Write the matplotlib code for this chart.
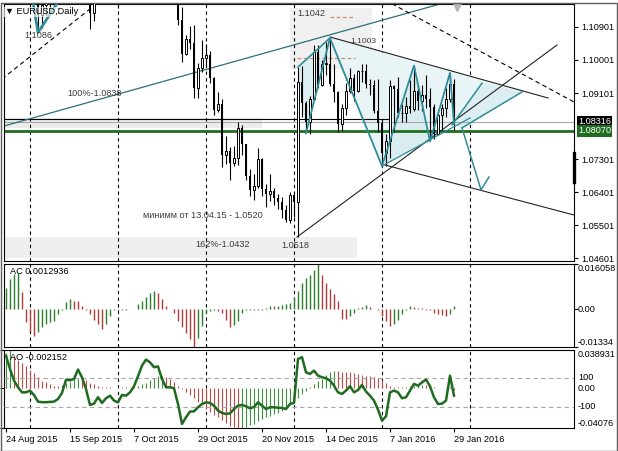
import matplotlib.pyplot as plt
from matplotlib.patches import Rectangle
from matplotlib.transforms import blended_transform_factory as blend
import numpy as np

plt.rcParams['font.family'] = ['Liberation Sans', 'DejaVu Sans']
plt.rcParams['font.size'] = 6.6

# EURUSD daily bars, 24 Aug 2015 .. 29 Jan 2016
opens = [1.1385, 1.1612, 1.1518, 1.1318, 1.1251, 1.1184, 1.1211, 1.1315, 1.1230, 1.1122,
         1.1150, 1.1168, 1.1204, 1.1208, 1.1279, 1.1338, 1.1313, 1.1268, 1.1296, 1.1433,
         1.1301, 1.1196, 1.1129, 1.1186, 1.1215, 1.1195, 1.1235, 1.1254, 1.1177, 1.1195,
         1.1215, 1.1192, 1.1260, 1.1277, 1.1278, 1.1356, 1.1365, 1.1382, 1.1470, 1.1380,
         1.1350, 1.1325, 1.1344, 1.1345, 1.1108, 1.1017, 1.1057, 1.1047, 1.0924, 1.0977,
         1.1005, 1.1015, 1.0950, 1.0865, 1.0880, 1.0740, 1.0752, 1.0720, 1.0734, 1.0815,
         1.0771, 1.0685, 1.0645, 1.0656, 1.0730, 1.0647, 1.0634, 1.0643, 1.0625, 1.0613,
         1.0592, 1.0564, 1.0631, 1.0612, 1.0940, 1.0884, 1.0832, 1.0893, 1.1023, 1.0932,
         1.0990, 1.0990, 1.0935, 1.0912, 1.0826, 1.0868, 1.0916, 1.0952, 1.0916, 1.0970,
         1.0970, 1.0935, 1.0931, 1.0860, 1.0829, 1.0747, 1.0778, 1.0929, 1.0920, 1.0855,
         1.0856, 1.0875, 1.0866, 1.0915, 1.0889, 1.0906, 1.0893, 1.0873, 1.0798, 1.0850,
         1.0868, 1.0894, 1.0934]
highs = [1.1714, 1.1620, 1.1545, 1.1375, 1.1315, 1.1235, 1.1332, 1.1328, 1.1257, 1.1175,
         1.1187, 1.1227, 1.1236, 1.1292, 1.1360, 1.1370, 1.1323, 1.1305, 1.1460, 1.1440,
         1.1332, 1.1225, 1.1220, 1.1270, 1.1230, 1.1255, 1.1279, 1.1262, 1.1225, 1.1317,
         1.1245, 1.1286, 1.1295, 1.1297, 1.1387, 1.1395, 1.1406, 1.1478, 1.1495, 1.1393,
         1.1375, 1.1385, 1.1370, 1.1361, 1.1144, 1.1067, 1.1093, 1.1095, 1.0993, 1.1055,
         1.1045, 1.1025, 1.0955, 1.0913, 1.0894, 1.0793, 1.0763, 1.0765, 1.0830, 1.0823,
         1.0771, 1.0704, 1.0690, 1.0761, 1.0734, 1.0662, 1.0690, 1.0652, 1.0635, 1.0626,
         1.0605, 1.0639, 1.0635, 1.0981, 1.0985, 1.0888, 1.0903, 1.1042, 1.1040, 1.1000,
         1.1048, 1.1060, 1.0990, 1.0915, 1.0880, 1.0937, 1.0978, 1.0963, 1.0973, 1.0990,
         1.0990, 1.0948, 1.0945, 1.0948, 1.0840, 1.0797, 1.0945, 1.0933, 1.0955, 1.0880,
         1.0900, 1.0945, 1.0985, 1.0930, 1.0933, 1.0960, 1.0925, 1.0880, 1.0855, 1.0880,
         1.0925, 1.0965, 1.0947]
lows = [1.1383, 1.1466, 1.1287, 1.1200, 1.1155, 1.1156, 1.1201, 1.1205, 1.1086, 1.1087,
        1.1124, 1.1138, 1.1150, 1.1160, 1.1261, 1.1288, 1.1234, 1.1215, 1.1262, 1.1279,
        1.1187, 1.1085, 1.1106, 1.1161, 1.1170, 1.1160, 1.1210, 1.1152, 1.1142, 1.1175,
        1.1155, 1.1176, 1.1220, 1.1210, 1.1273, 1.1340, 1.1360, 1.1370, 1.1370, 1.1338,
        1.1321, 1.1300, 1.1330, 1.1096, 1.0996, 1.1015, 1.1030, 1.0896, 1.0897, 1.0968,
        1.0982, 1.0937, 1.0851, 1.0857, 1.0707, 1.0717, 1.0674, 1.0712, 1.0715, 1.0740,
        1.0674, 1.0630, 1.0617, 1.0652, 1.0630, 1.0599, 1.0615, 1.0604, 1.0595, 1.0570,
        1.0558, 1.0555, 1.0573, 1.0518, 1.0844, 1.0800, 1.0797, 1.0888, 1.0925, 1.0930,
        1.0958, 1.0930, 1.0885, 1.0804, 1.0806, 1.0850, 1.0911, 1.0888, 1.0913, 1.0940,
        1.0925, 1.0905, 1.0855, 1.0804, 1.0711, 1.0711, 1.0733, 1.0804, 1.0845, 1.0830,
        1.0830, 1.0855, 1.0860, 1.0865, 1.0860, 1.0870, 1.0778, 1.0786, 1.0796, 1.0810,
        1.0845, 1.0885, 1.0810]
closes = [1.1612, 1.1518, 1.1318, 1.1251, 1.1184, 1.1211, 1.1315, 1.1230, 1.1122, 1.1150,
          1.1168, 1.1204, 1.1208, 1.1279, 1.1338, 1.1313, 1.1268, 1.1296, 1.1433, 1.1301,
          1.1196, 1.1129, 1.1186, 1.1215, 1.1195, 1.1235, 1.1254, 1.1177, 1.1195, 1.1215,
          1.1192, 1.1260, 1.1277, 1.1278, 1.1356, 1.1365, 1.1382, 1.1470, 1.1380, 1.1350,
          1.1325, 1.1344, 1.1345, 1.1108, 1.1017, 1.1057, 1.1047, 1.0924, 1.0977, 1.1005,
          1.1015, 1.0950, 1.0865, 1.0880, 1.0740, 1.0752, 1.0720, 1.0734, 1.0815, 1.0771,
          1.0685, 1.0645, 1.0656, 1.0730, 1.0647, 1.0634, 1.0643, 1.0625, 1.0613, 1.0592,
          1.0564, 1.0631, 1.0612, 1.0940, 1.0884, 1.0832, 1.0893, 1.1023, 1.0932, 1.0990,
          1.0990, 1.0935, 1.0912, 1.0826, 1.0868, 1.0916, 1.0952, 1.0916, 1.0970, 1.0970,
          1.0935, 1.0931, 1.0860, 1.0829, 1.0747, 1.0778, 1.0929, 1.0920, 1.0855, 1.0856,
          1.0875, 1.0866, 1.0915, 1.0889, 1.0906, 1.0893, 1.0873, 1.0798, 1.0850, 1.0868,
          1.0894, 1.0934, 1.0831]

# Accelerator oscillator, x 1e-3
ac_values = [7.6, 10.7, 12.5, 12.9, 6.2, -4.5, -7.6, -9.5, -8.0, -6.2,
             -5.3, -4.5, -4.1, -1.8, -0.4, 2.7, 3.6, 3.0, 2.8, 1.2,
             -0.3, -1.8, -3.6, -5.3, -7.1, -5.3, -2.3, -0.3, -0.2, -0.3,
             -0.1, 0.1, 0.2, 1.8, 2.9, 4.5, 5.9, 6.4, 5.9, 3.6,
             1.2, 0.2, -1.2, -4.1, -6.4, -8.4, -10.5, -13.34, -10.2, -5.9,
             -1.2, -0.5, -0.3, -0.5, -1.2, -3.6, -6.4, -5.6, -4.1, -1.2,
             -0.4, -0.3, -0.4, -0.2, -0.3, 0.3, 1.2, 1.1, 1.3, 1.6,
             1.8, 2.3, 4.5, 6.4, 9.3, 11.1, 12.3, 14.0, 16.058, 12.3,
             9.3, 7.1, 5.3, 2.9, -3.3, -3.5, -2.3, -1.2, 0.3, 0.9,
             1.4, 0.7, 0.2, -0.4, -2.3, -4.1, -5.9, -5.3, -3.6, -1.5,
             -0.3, 1.2, 0.9, 0.6, 0.4, -0.3, -0.4, -1.4, -1.8, -2.1,
             -2.2, -1.8, 1.2936]

# Awesome oscillator, x 1e-3
ao_values = [36, 38.931, 32, 29, 26, 23, 19, 15, 11, 7.5,
             5.8, 4.0, 2.5, 2.0, 3.2, 5, 6.5, 9, 10.5, 9.5,
             8, 5.6, 4, 2.4, 1.6, 1.2, 0.8, 0.6, 0.8, 1.0,
             0.8, 0.6, 1.2, 2.4, 4, 5.6, 8, 10.5, 12, 12.8,
             11, 9.5, 6.4, 2.4, -0.9, -3.5, -7, -10.5, -14, -17.5,
             -21, -24, -27, -30, -33, -36, -38.5, -40, -40.76, -40.3,
             -39.5, -38, -36.5, -34, -32, -30, -28, -26.5, -25, -23,
             -20, -17.5, -15, -10.5, -6, -2.6, 0.8, 4, 7, 9.5,
             13.5, 16.8, 17.6, 17.2, 16.8, 16.4, 16, 15.2, 14.4, 13.6,
             12.8, 12, 11.6, 10.4, 8, 4.8, 2.4, 1.2, 0.8, 1.2,
             1.6, 2.0, 2.4, 2.8, 3.0, 2.8, 2.0, 1.2, 0.4, 0.2,
             0.4, 0.8, -2.152]

# CCI line in the AO window
cci_values = [254, 162, 82, 36, 1, 1, 13, -17, -63, -67,
              -67, -65, -63, -45, -3, 88, 84, 93, 158, 105,
              24, -86, -77, -33, -72, -40, -22, -56, -68, -17,
              -22, 1, 43, 112, 185, 227, 208, 174, 180, 93,
              36, 36, 29, -79, -217, -171, -132, -130, -102, -79,
              -68, -72, -91, -125, -141, -148, -144, -114, -91, -86,
              -95, -109, -100, -68, -91, -114, -102, -102, -105, -107,
              -114, -79, -72, 231, 243, 139, 128, 151, 116, 105,
              98, 82, 47, 1, -10, 13, 43, 1, 17, 52,
              6, -22, -56, -118, -194, -164, 1, 13, 1, -40,
              -33, 13, 59, 47, 70, 89, 43, -33, -79, -77,
              -56, 116, -22]

date_ticks = [0, 16, 32, 48, 64, 80, 96, 112]
date_labels = ['24 Aug 2015', '15 Sep 2015', '7 Oct 2015', '29 Oct 2015',
               '20 Nov 2015', '14 Dec 2015', '7 Jan 2016', '29 Jan 2016']
grid_bars = [6, 28, 50, 72, 94, 116]

price_ticks = [1.10901, 1.10001, 1.09101, 1.07301, 1.06401, 1.05501, 1.04601]
bid = 1.08316
support = 1.08070
level_1838 = 1.0838

# harmonic pattern points (bar, price)
pat_x = [75, 81, 94, 102, 106, 111, 112]
pat_p = [1.0800, 1.1060, 1.0711, 1.0985, 1.0778, 1.0965, 1.0826]

W, H = 618, 451
def px_box(x0, y0, x1, y1):
    return [x0 / W, 1 - y1 / H, (x1 - x0) / W, (y1 - y0) / H]

fig = plt.figure(figsize=(6.18, 4.51), dpi=100)
ax = fig.add_axes(px_box(4, 4, 574, 261))
ac_ax = fig.add_axes(px_box(4, 264, 574, 347))
ao_ax = fig.add_axes(px_box(4, 350, 574, 428))

XMIN, XMAX = -0.5, 142
for a in (ax, ac_ax, ao_ax):
    a.set_xlim(XMIN, XMAX)
    for s in a.spines.values():
        s.set_linewidth(0.8)
    a.tick_params(axis='x', bottom=False, labelbottom=False)
    a.yaxis.tick_right()
    a.tick_params(axis='y', length=3, width=0.8, pad=2, labelsize=6.6)
    for g in grid_bars:
        a.axvline(g, color='black', lw=0.8, ls=(0, (3, 3)), zorder=0.5)

teal = '#2f8c98'
dark = '#3c3c3c'

# ---- main price window
ax.set_ylim(1.04520, 1.11528)
ax.set_yticks(price_ticks)
ax.set_yticklabels(['%.5f' % p for p in price_ticks])

ax.add_patch(Rectangle((-0.5, 1.08147), 64.5, 0.00272, color='#ececec', lw=0, zorder=0.2))
ax.add_patch(Rectangle((-0.5, 1.04602), 88.25, 0.00572, color='#efefef', lw=0, zorder=0.2))
ax.add_patch(Rectangle((71, 1.09750), 20.5, 0.01670, color='#f0f0f0', lw=0, zorder=0.2))

# filled pattern areas
ax.fill([73, 81, 75], [1.0981, 1.1060, 1.0800], color='#dceef1', lw=0, zorder=0.6)
ax.fill([81, 94, 116, 129], [1.1060, 1.0711, 1.0864, 1.0915], color='#e9f4f6', lw=0, zorder=0.6)
ax.fill([94, 102, 106], [1.0711, 1.0985, 1.0778], color='#d9edf0', lw=0, zorder=0.7)
ax.fill([111.5, 119, 129, 114], [1.0823, 1.0937, 1.0913, 1.0815], color='#dceef1', lw=0, zorder=0.7)

ax.axhline(bid, color='#a8a8a8', lw=0.8, zorder=1)
ax.plot([-0.5, 96], [level_1838, level_1838], color='black', lw=0.8, zorder=1)
ax.axhline(support, color='#1f6e1f', lw=2, zorder=1)

# trend lines
ax.plot([-0.5, 108.5], [1.08201, 1.11528], color='#2c6f7a', lw=0.9, zorder=2)
ax.plot([-1, 25], [1.09483, 1.1174], color='black', lw=0.8, ls=(0, (4, 3)), zorder=2)
ax.plot([94.75, 142], [1.11637, 1.08856], color='black', lw=0.8, ls=(0, (4, 3)), zorder=2)
ax.plot([72.75, 137.75], [1.05174, 1.10410], color='#222222', lw=0.8, zorder=2)
ax.plot([94.75, 142], [1.07138, 1.05774], color='#222222', lw=0.8, zorder=2)
ax.plot([81, 135.5], [1.10628, 1.08965], color='#222222', lw=0.8, zorder=2)
ax.plot([72.75, 87.25], [1.10056, 1.10056], color='#d0906a', lw=0.9, ls=(0, (3, 2)), zorder=2)
ax.plot([81, 87.25], [1.11174, 1.11174], color='#d0906a', lw=0.9, ls=(0, (3, 2)), zorder=2)

# teal zigzags
ax.plot([6.5, 8, 14], [1.1175, 1.1075, 1.1175], color=teal, lw=2, zorder=5)
ax.plot([73, 81], [1.0981, 1.1060], color=teal, lw=1.2, zorder=5)
ax.plot(pat_x, pat_p, color=teal, lw=1.3, zorder=5)
ax.plot([94, 116], [1.0711, 1.0842], color=teal, lw=0.9, zorder=5)
ax.plot([111.5, 119], [1.0823, 1.0937], color=teal, lw=1.1, zorder=5)
ax.plot([114, 129], [1.0815, 1.0913], color=teal, lw=1.1, zorder=5)
ax.plot([114, 118.75, 120.75], [1.0815, 1.0646, 1.0681], color=teal, lw=1.1, zorder=5)

# candles
idx = np.arange(len(closes))
o, h, l, c = (np.array(v) for v in (opens, highs, lows, closes))
up = c >= o
ax.vlines(idx, l, h, color='black', lw=0.8, zorder=3)
ax.bar(idx[up], np.maximum((c - o)[up], 0.00008), bottom=o[up], width=0.72,
       facecolor='white', edgecolor='black', lw=0.7, zorder=4)
ax.bar(idx[~up], (o - c)[~up], bottom=c[~up], width=0.72, color='black', zorder=4)

# labels on the chart
ax.text(4.5, 1.10656, '1.1086', color=dark, va='center', zorder=6)
ax.text(15.25, 1.09074, '100%-1.0838', color=dark, va='center', zorder=6)
ax.text(72.75, 1.11256, '1.1042', color=dark, va='center', zorder=6)
ax.text(86, 1.10519, '1.1003', color=dark, va='center', fontsize=6, zorder=6)
ax.text(34.25, 1.05774, 'минимм от 13.04.15 - 1.0520', color=dark, va='center', zorder=6)
ax.text(47.25, 1.04983, '162%-1.0432', color=dark, va='center', zorder=6)
ax.text(68.75, 1.04956, '1.0518', color=dark, va='center', zorder=6)
ax.text(1 / 570, 1 - 8 / 257, '\u25bc EURUSD,Daily', transform=ax.transAxes,
        va='center', color='black', zorder=6,
        bbox=dict(facecolor='white', edgecolor='none', pad=0.5, alpha=0.6))
ax.plot(112.75, 1.1145, marker='v', ms=6, color='#b4b4b4', clip_on=False, zorder=6)

rt = blend(ax.transAxes, ax.transData)
ax.text(1 + 4 / 570, bid, '1.08316', transform=rt, color='white', va='center', ha='left',
        bbox=dict(facecolor='black', edgecolor='none', pad=0.6))
ax.text(1 + 4 / 570, support, '1.08070', transform=rt, color='white', va='center', ha='left',
        bbox=dict(facecolor='#1f6e1f', edgecolor='none', pad=0.9))
ax.plot([1, 1], [1.07465, 1.06674], transform=rt, color='black', lw=2.4, clip_on=False, zorder=6)

# ---- AC window
ac = np.array(ac_values) / 1000
ac_col = ['#2d7d2d' if i == 0 or ac[i] > ac[i - 1] else '#b23a3a' for i in range(len(ac))]
ac_ax.set_ylim(-0.01334, 0.016058)
ac_ax.vlines(idx, 0, ac, colors=ac_col, lw=1.0, zorder=2)
ac_ax.set_yticks([0.016058, 0, -0.01334])
ac_ax.set_yticklabels(['', '', ''])
art = blend(ac_ax.transAxes, ac_ax.transData)
ac_ax.text(1 + 4 / 570, 0.016058, '0.016058', transform=art, va='top')
ac_ax.text(1 + 4 / 570, 0, '0.00', transform=art, va='center')
ac_ax.text(1 + 4 / 570, -0.01334, '-0.01334', transform=art, va='bottom')
ac_ax.text(6 / 570, 0.96, 'AC 0.0012936', transform=ac_ax.transAxes, va='top')

# ---- AO window with CCI
ao = np.array(ao_values) / 1000
ao_col = ['#3f8f3f' if i == 0 or ao[i] > ao[i - 1] else '#c24848' for i in range(len(ao))]
ao_ax.set_ylim(-0.04076, 0.038931)
ao_ax.vlines(idx, 0, ao, colors=ao_col, lw=0.8, zorder=2)
ao_ax.set_yticks([0.038931, 0, -0.04076])
ao_ax.set_yticklabels(['', '', ''])

cci_ax = ao_ax.twinx()
cci_ax.set_xlim(XMIN, XMAX)
cci_ax.set_ylim(-245, 293)
cci_ax.axis('off')
cci_ax.axhline(100, color='#a8a8a8', lw=0.8, ls=(0, (4, 3)), zorder=1)
cci_ax.axhline(-100, color='#a8a8a8', lw=0.8, ls=(0, (4, 3)), zorder=1)
cci_ax.plot(idx, cci_values, color='#1f6b1f', lw=1.8, zorder=3)

aort = blend(ao_ax.transAxes, ao_ax.transData)
crt = blend(cci_ax.transAxes, cci_ax.transData)
ao_ax.text(1 + 4 / 570, 0.038931, '0.038931', transform=aort, va='top')
ao_ax.text(1 + 4 / 570, 0, '0.00', transform=aort, va='center')
ao_ax.text(1 + 4 / 570, -0.04076, '-0.04076', transform=aort, va='bottom')
cci_ax.text(1 + 4 / 570, 100, '100', transform=crt, va='center')
cci_ax.text(1 + 4 / 570, -100, '-100', transform=crt, va='center')
ao_ax.text(6 / 570, 0.96, 'AO -0.002152', transform=ao_ax.transAxes, va='top', zorder=6)

ao_ax.set_xticks(date_ticks)
ao_ax.set_xticklabels(date_labels, ha='left')
ao_ax.tick_params(axis='x', bottom=True, labelbottom=True, length=3, width=0.8, pad=2,
                  labelsize=6.6)

fig.patches.append(Rectangle((0.5 / W, 0.5 / H), 1 - 1.5 / W, 1 - 3 / H,
                             transform=fig.transFigure, fill=False, ec='#606060', lw=1))

plt.savefig('out.png', dpi=100)
